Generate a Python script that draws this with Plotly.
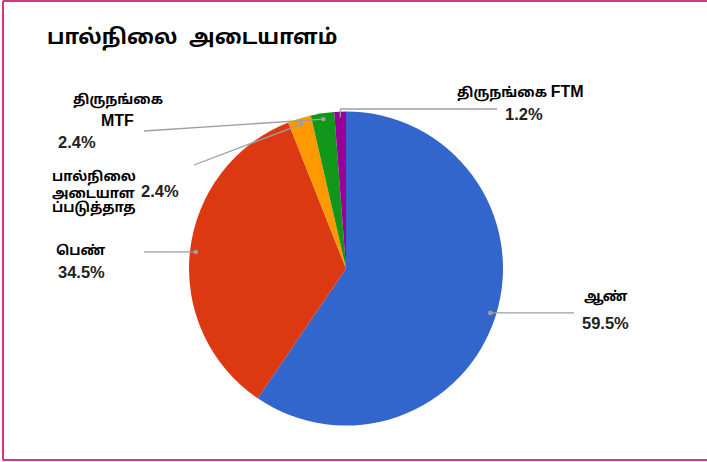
import math
import plotly.graph_objects as go

# ---- data ----
title_text = "பால்நிலை  அடையாளம்"
categories = ["ஆண்", "பெண்", "பால்நிலை அடையாளப்படுத்தாத", "திருநங்கை MTF", "திருநங்கை FTM"]
label_lines = [["ஆண்"], ["பெண்"], ["பால்நிலை", "அடையாள", "ப்படுத்தாத"], ["திருநங்கை", "MTF"], ["திருநங்கை FTM"]]
values = [59.5, 34.5, 2.4, 2.4, 1.2]
colors = ["#3366CC", "#DC3912", "#FF9900", "#109618", "#990099"]

# ---- layout / style (pixels) ----
W, H = 707, 462
CX, CY, R = 346, 268.5, 157
ANCHOR_R = 0.962
NAME_SIZE, LATIN_SIZE, PCT_SIZE, TITLE_SIZE = 13.5, 16, 16.5, 21
# name label pieces: (x, y, xanchor) per line; pct label: (x, y, xanchor)
name_pos = [[(582, 297, "left")], [(54, 250, "left")],
            [(50, 177, "left"), (50, 193, "left"), (50, 209, "left")],
            [(118, 100, "center"), (117, 121, "center")],
            [(455, 92, "left")]]
pct_pos = [(580, 323, "left"), (56, 272, "left"), (139, 191, "left"),
           (56, 142, "left"), (503, 114, "left")]
# leader line style: ('h', end_x) horizontal; ('p', x, y) straight to point; ('e', y, end_x) elbow
leader = [("h", 574), ("h", 144), ("p", 194, 165), ("p", 144, 131), ("e", 109, 497)]

def px(x):
    return x / W

def py(y):
    return 1 - y / H

def fmt(t):
    # Latin words are set a little larger, as in the reference
    return " ".join(f"<span style='font-size:{LATIN_SIZE}px'>{w}</span>" if w.isascii() else w
                    for w in t.split(" "))

fig = go.Figure()
fig.add_trace(go.Pie(
    labels=categories, values=values, sort=False, direction="clockwise", rotation=0,
    marker=dict(colors=colors, line=dict(width=0)), textinfo="none", hoverinfo="label+percent",
    domain=dict(x=[px(CX - R), px(CX + R)], y=[py(CY + R), py(CY - R)]),
    showlegend=False,
))

shapes = []
annotations = []
total = sum(values)
cum = 0.0
LINE = dict(color="#9e9e9e", width=1.3)
FAM = "Liberation Sans, Arial, sans-serif"
TFAM = "Liberation Sans, Noto Sans Tamil, Noto Serif Tamil, Lohit Tamil, Latha, FreeSans, sans-serif"
for i, v in enumerate(values):
    mid = (cum + v / 2) / total * 2 * math.pi
    cum += v
    ax = CX + ANCHOR_R * R * math.sin(mid)
    ay = CY - ANCHOR_R * R * math.cos(mid)
    kind = leader[i]
    if kind[0] == "h":
        pts = [(ax, ay), (kind[1], ay)]
    elif kind[0] == "p":
        pts = [(kind[1], kind[2]), (ax, ay)]
    else:
        pts = [(ax, ay), (ax, kind[1]), (kind[2], kind[1])]
    for (x0, y0), (x1, y1) in zip(pts[:-1], pts[1:]):
        shapes.append(dict(type="line", xref="paper", yref="paper",
                           x0=px(x0), y0=py(y0), x1=px(x1), y1=py(y1), line=LINE))
    if kind[0] != "e":
        shapes.append(dict(type="circle", xref="paper", yref="paper",
                           x0=px(ax - 2.3), x1=px(ax + 2.3), y0=py(ay + 2.3), y1=py(ay - 2.3),
                           fillcolor="#9e9e9e", line=dict(width=0)))
    for t, (nx, ny, xa) in zip(label_lines[i], name_pos[i]):
        annotations.append(dict(text=f"<b>{fmt(t)}</b>", x=px(nx), y=py(ny), xref="paper", yref="paper",
                                xanchor=xa, yanchor="middle", showarrow=False,
                                font=dict(size=NAME_SIZE, color="#000000", family=TFAM)))
    qx, qy, qa = pct_pos[i]
    annotations.append(dict(text=f"<b>{v:.1f}%</b>", x=px(qx), y=py(qy), xref="paper", yref="paper",
                            xanchor=qa, yanchor="middle", showarrow=False,
                            font=dict(size=PCT_SIZE, color="#222222", family=FAM)))

annotations.append(dict(text=f"<b>{title_text}</b>", x=px(45), y=py(38), xref="paper", yref="paper",
                        xanchor="left", yanchor="middle", showarrow=False,
                        font=dict(size=TITLE_SIZE, color="#000000", family=TFAM)))

BORDER = dict(color="#d6357f", width=2)
shapes += [
    dict(type="line", xref="paper", yref="paper", x0=px(3), x1=px(3), y0=py(1), y1=py(460), line=BORDER),
    dict(type="line", xref="paper", yref="paper", x0=px(3), x1=1, y0=py(1), y1=py(1), line=BORDER),
    dict(type="line", xref="paper", yref="paper", x0=px(3), x1=1, y0=py(460), y1=py(460), line=BORDER),
]

fig.update_layout(width=W, height=H, margin=dict(l=0, r=0, t=0, b=0),
                  paper_bgcolor="white", plot_bgcolor="white",
                  shapes=shapes, annotations=annotations)
fig.write_html("out.html", config={"displayModeBar": False},
               post_script="document.body.style.margin='0';")
